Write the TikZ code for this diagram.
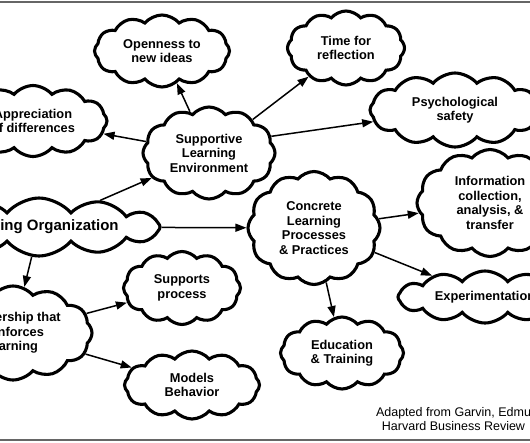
\documentclass[tikz,border=0pt]{standalone}
\usepackage{fontspec}
\setmainfont{Liberation Sans}
\usetikzlibrary{arrows.meta, shapes.symbols}

\begin{document}
\begin{tikzpicture}[
    x=1pt, y=-1pt,
    puff/.style={
        cloud,
        cloud puffs=12,
        cloud puff arc=100,
        cloud ignores aspect,
        draw=black,
        fill=white,
        line width=3.1pt,
        inner sep=0pt,
        align=center,
        font=\fontsize{12.8}{14.5}\selectfont\bfseries
    },
    arrow/.style={
        -{Triangle[length=11pt,width=8pt]},
        line width=1.5pt
    },
    note/.style={
        align=center,
        font=\fontsize{12.5}{14}\selectfont
    }
]

% Frame
\useasboundingbox (0,0) rectangle (530,442);
\clip (0,0) rectangle (530,442);
\fill[white] (0,0) rectangle (530,442);
\draw[black!60, line width=2pt] (0,2) -- (530,2);
\draw[black!60, line width=2pt] (0,440) -- (530,440);

% Root
\node[puff, minimum width=242pt, minimum height=58pt,
      font=\fontsize{15}{17}\selectfont\bfseries] (org) at (39,227) {Learning Organization};

% Upper branch
\node[puff, minimum width=132pt, minimum height=92pt]  (sle)   at (209,153) {Supportive\\Learning\\Environment};
\node[puff, minimum width=135pt, minimum height=72pt]  (open)  at (162,51)  {Openness to\\new ideas};
\node[puff, minimum width=117pt, minimum height=74pt]  (time)  at (346,48)  {Time for\\reflection};
\node[puff, minimum width=148pt, minimum height=71pt]  (appr)  at (33,121)  {Appreciation\\of differences};
\node[puff, minimum width=170pt, minimum height=74pt]  (psych) at (455,110) {Psychological\\safety};

% Middle branch
\node[puff, minimum width=132pt, minimum height=113pt] (conc)  at (314,228) {Concrete\\Learning\\Processes\\\& Practices};
\node[puff, minimum width=146pt, minimum height=107pt] (info)  at (490,203) {Information\\collection,\\analysis, \&\\transfer};
\node[puff, minimum width=174pt, minimum height=52pt]  (exper) at (485,297) {Experimentation};
\node[puff, minimum width=123pt, minimum height=72pt]  (edu)   at (342,353) {Education\\\& Training};

% Lower branch
\node[puff, minimum width=158pt, minimum height=94pt]  (lead)  at (13,333)  {Leadership that\\reinforces\\learning};
\node[puff, minimum width=117pt, minimum height=73pt]  (supp)  at (182,288) {Supports\\process};
\node[puff, minimum width=135pt, minimum height=68pt]  (model) at (192,385) {Models\\Behavior};

% Source
\node[note] (src) at (453.5,419) {Adapted from Garvin, Edmu\\Harvard Business Review};

% Arrows
\draw[arrow] (org)  -- (sle);
\draw[arrow] (org)  -- (conc);
\draw[arrow] (org)  -- (lead);

\draw[arrow] (sle)  -- (open);
\draw[arrow] (sle)  -- (time);
\draw[arrow] (sle)  -- (appr);
\draw[arrow] (sle.15) -- (psych);

\draw[arrow] (conc) -- (info);
\draw[arrow] (conc) -- (exper);
\draw[arrow] (conc) -- (edu);

\draw[arrow] (lead) -- (supp);
\draw[arrow] (lead) -- (model);

\end{tikzpicture}
\end{document}
